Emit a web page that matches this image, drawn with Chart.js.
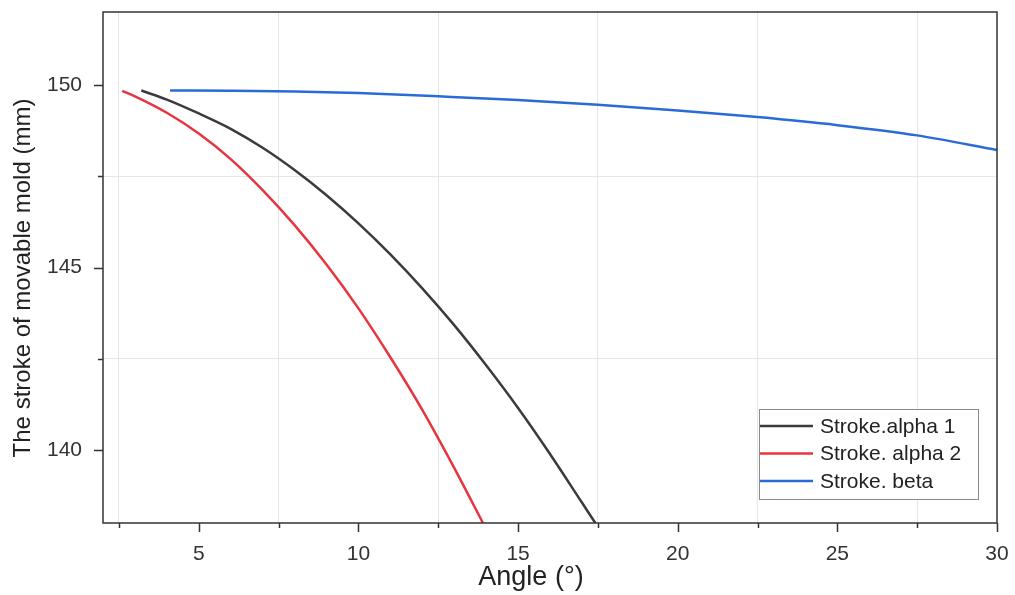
<!DOCTYPE html>
<html>
<head>
<meta charset="utf-8">
<script src="https://cdn.jsdelivr.net/npm/chart.js@4.4.0/dist/chart.umd.min.js"></script>
<style>
    html, body { margin: 0; padding: 0; background: #fff; }
</style>
</head>
<body>
<canvas id="grafica" width="1015" height="595"></canvas>
<script>
// valores
const alpha1X = [3.2, 4, 5, 6, 7, 8, 9, 10, 11, 12, 13, 14, 15, 16, 17, 17.42];
const alpha1Y = [149.85, 149.6, 149.22, 148.8, 148.28, 147.67, 146.98, 146.21, 145.36, 144.43, 143.42, 142.32, 141.15, 139.89, 138.56, 138.0];

const alpha2X = [2.6, 3, 4, 5, 6, 7, 8, 9, 10, 11, 12, 13, 13.9];
const alpha2Y = [149.84, 149.69, 149.24, 148.67, 147.97, 147.12, 146.16, 145.08, 143.88, 142.54, 141.1, 139.51, 138.0];

const betaX = [4.1, 6, 8, 10, 12.5, 15, 17.5, 20, 22.5, 25, 27.5, 30];
const betaY = [149.85, 149.84, 149.82, 149.78, 149.69, 149.59, 149.46, 149.3, 149.12, 148.9, 148.62, 148.22];

const nombres = ['Stroke.alpha 1', 'Stroke. alpha 2', 'Stroke. beta'];
const colores = ['#3b3b3b', '#e8343e', '#2b6bd8'];

const etiquetasX = ['5', '10', '15', '20', '25', '30'];
const etiquetasY = ['140', '145', '150'];
const tituloX = 'Angle (°)';
const tituloY = 'The stroke of movable mold (mm)';

const fuente = '"Liberation Sans", Arial, sans-serif';

function puntos(xs, ys) {
    return xs.map((x, i) => ({ x: x, y: ys[i] }));
}

// marco, marcas de los ejes, titulos y leyenda dentro del area
const extras = {
    id: 'extras',
    afterDraw(chart) {
        const ctx = chart.ctx;
        const a = chart.chartArea;
        const sx = chart.scales.x;
        const sy = chart.scales.y;
        ctx.save();
        ctx.strokeStyle = '#333';
        ctx.lineWidth = 1.5;
        ctx.strokeRect(a.left, a.top, a.right - a.left, a.bottom - a.top);

        ctx.beginPath();
        sx.ticks.forEach(t => {
            const px = Math.round(sx.getPixelForValue(t.value)) + 0.5;
            const largo = t.value % 5 === 0 ? 9 : 5;
            ctx.moveTo(px, a.bottom);
            ctx.lineTo(px, a.bottom + largo);
        });
        sy.ticks.forEach(t => {
            const py = Math.round(sy.getPixelForValue(t.value)) + 0.5;
            const largo = t.value % 5 === 0 ? 9 : 5;
            ctx.moveTo(a.left, py);
            ctx.lineTo(a.left - largo, py);
        });
        ctx.stroke();

        // titulos de los ejes
        ctx.fillStyle = '#222';
        ctx.textAlign = 'center';
        ctx.textBaseline = 'middle';
        ctx.font = '27px ' + fuente;
        ctx.fillText(tituloX, 531, 578);
        ctx.save();
        ctx.translate(23, 278);
        ctx.rotate(-Math.PI / 2);
        ctx.font = '24px ' + fuente;
        ctx.fillText(tituloY, 0, 0);
        ctx.restore();

        // leyenda
        const bx = 759, by = 409, bw = 219, bh = 90;
        ctx.fillStyle = '#fff';
        ctx.fillRect(bx, by, bw, bh);
        ctx.strokeStyle = '#8a8a8a';
        ctx.lineWidth = 1;
        ctx.strokeRect(bx + 0.5, by + 0.5, bw, bh);
        ctx.font = '21px ' + fuente;
        ctx.textAlign = 'left';
        chart.data.datasets.forEach((ds, i) => {
            const yy = by + 17 + i * 27.5;
            ctx.strokeStyle = ds.borderColor;
            ctx.lineWidth = 2.5;
            ctx.beginPath();
            ctx.moveTo(bx + 1, yy);
            ctx.lineTo(bx + 54, yy);
            ctx.stroke();
            ctx.fillStyle = '#222';
            ctx.fillText(ds.label, bx + 61, yy + 1);
        });
        ctx.restore();
    }
};

const datos = [puntos(alpha1X, alpha1Y), puntos(alpha2X, alpha2Y), puntos(betaX, betaY)];

new Chart(document.getElementById('grafica').getContext('2d'), {
    type: 'line',
    data: {
        datasets: datos.map((d, i) => ({
            label: nombres[i],
            data: d,
            borderColor: colores[i],
            backgroundColor: colores[i],
            borderWidth: 2.5,
            pointRadius: 0,
            fill: false,
            cubicInterpolationMode: 'monotone'
        }))
    },
    options: {
        responsive: false,
        animation: false,
        layout: { padding: { top: 12, right: 18, left: 0, bottom: 0 } },
        plugins: {
            legend: { display: false },
            tooltip: { enabled: false }
        },
        scales: {
            x: {
                type: 'linear',
                min: 2,
                max: 30,
                afterFit: s => { s.height = 72; s.paddingLeft = 0; s.paddingRight = 0; },
                border: { display: false },
                grid: {
                    drawTicks: false,
                    lineWidth: 1,
                    color: c => (c.tick && c.tick.value % 5 !== 0) ? '#e6e6e6' : 'rgba(0,0,0,0)'
                },
                ticks: {
                    stepSize: 2.5,
                    includeBounds: false,
                    autoSkip: false,
                    maxRotation: 0,
                    padding: 19,
                    color: '#333',
                    font: { family: fuente, size: 21 },
                    callback: v => etiquetasX.includes(String(v)) ? String(v) : ''
                }
            },
            y: {
                min: 138,
                max: 152,
                afterFit: s => { s.width = 103; s.paddingTop = 0; s.paddingBottom = 0; },
                border: { display: false },
                grid: {
                    drawTicks: false,
                    lineWidth: 1,
                    color: c => (c.tick && c.tick.value % 5 !== 0) ? '#e6e6e6' : 'rgba(0,0,0,0)'
                },
                ticks: {
                    stepSize: 2.5,
                    includeBounds: false,
                    autoSkip: false,
                    padding: 21,
                    color: '#333',
                    font: { family: fuente, size: 21 },
                    callback: v => etiquetasY.includes(String(v)) ? String(v) : ''
                }
            }
        }
    },
    plugins: [extras]
});
</script>
</body>
</html>
